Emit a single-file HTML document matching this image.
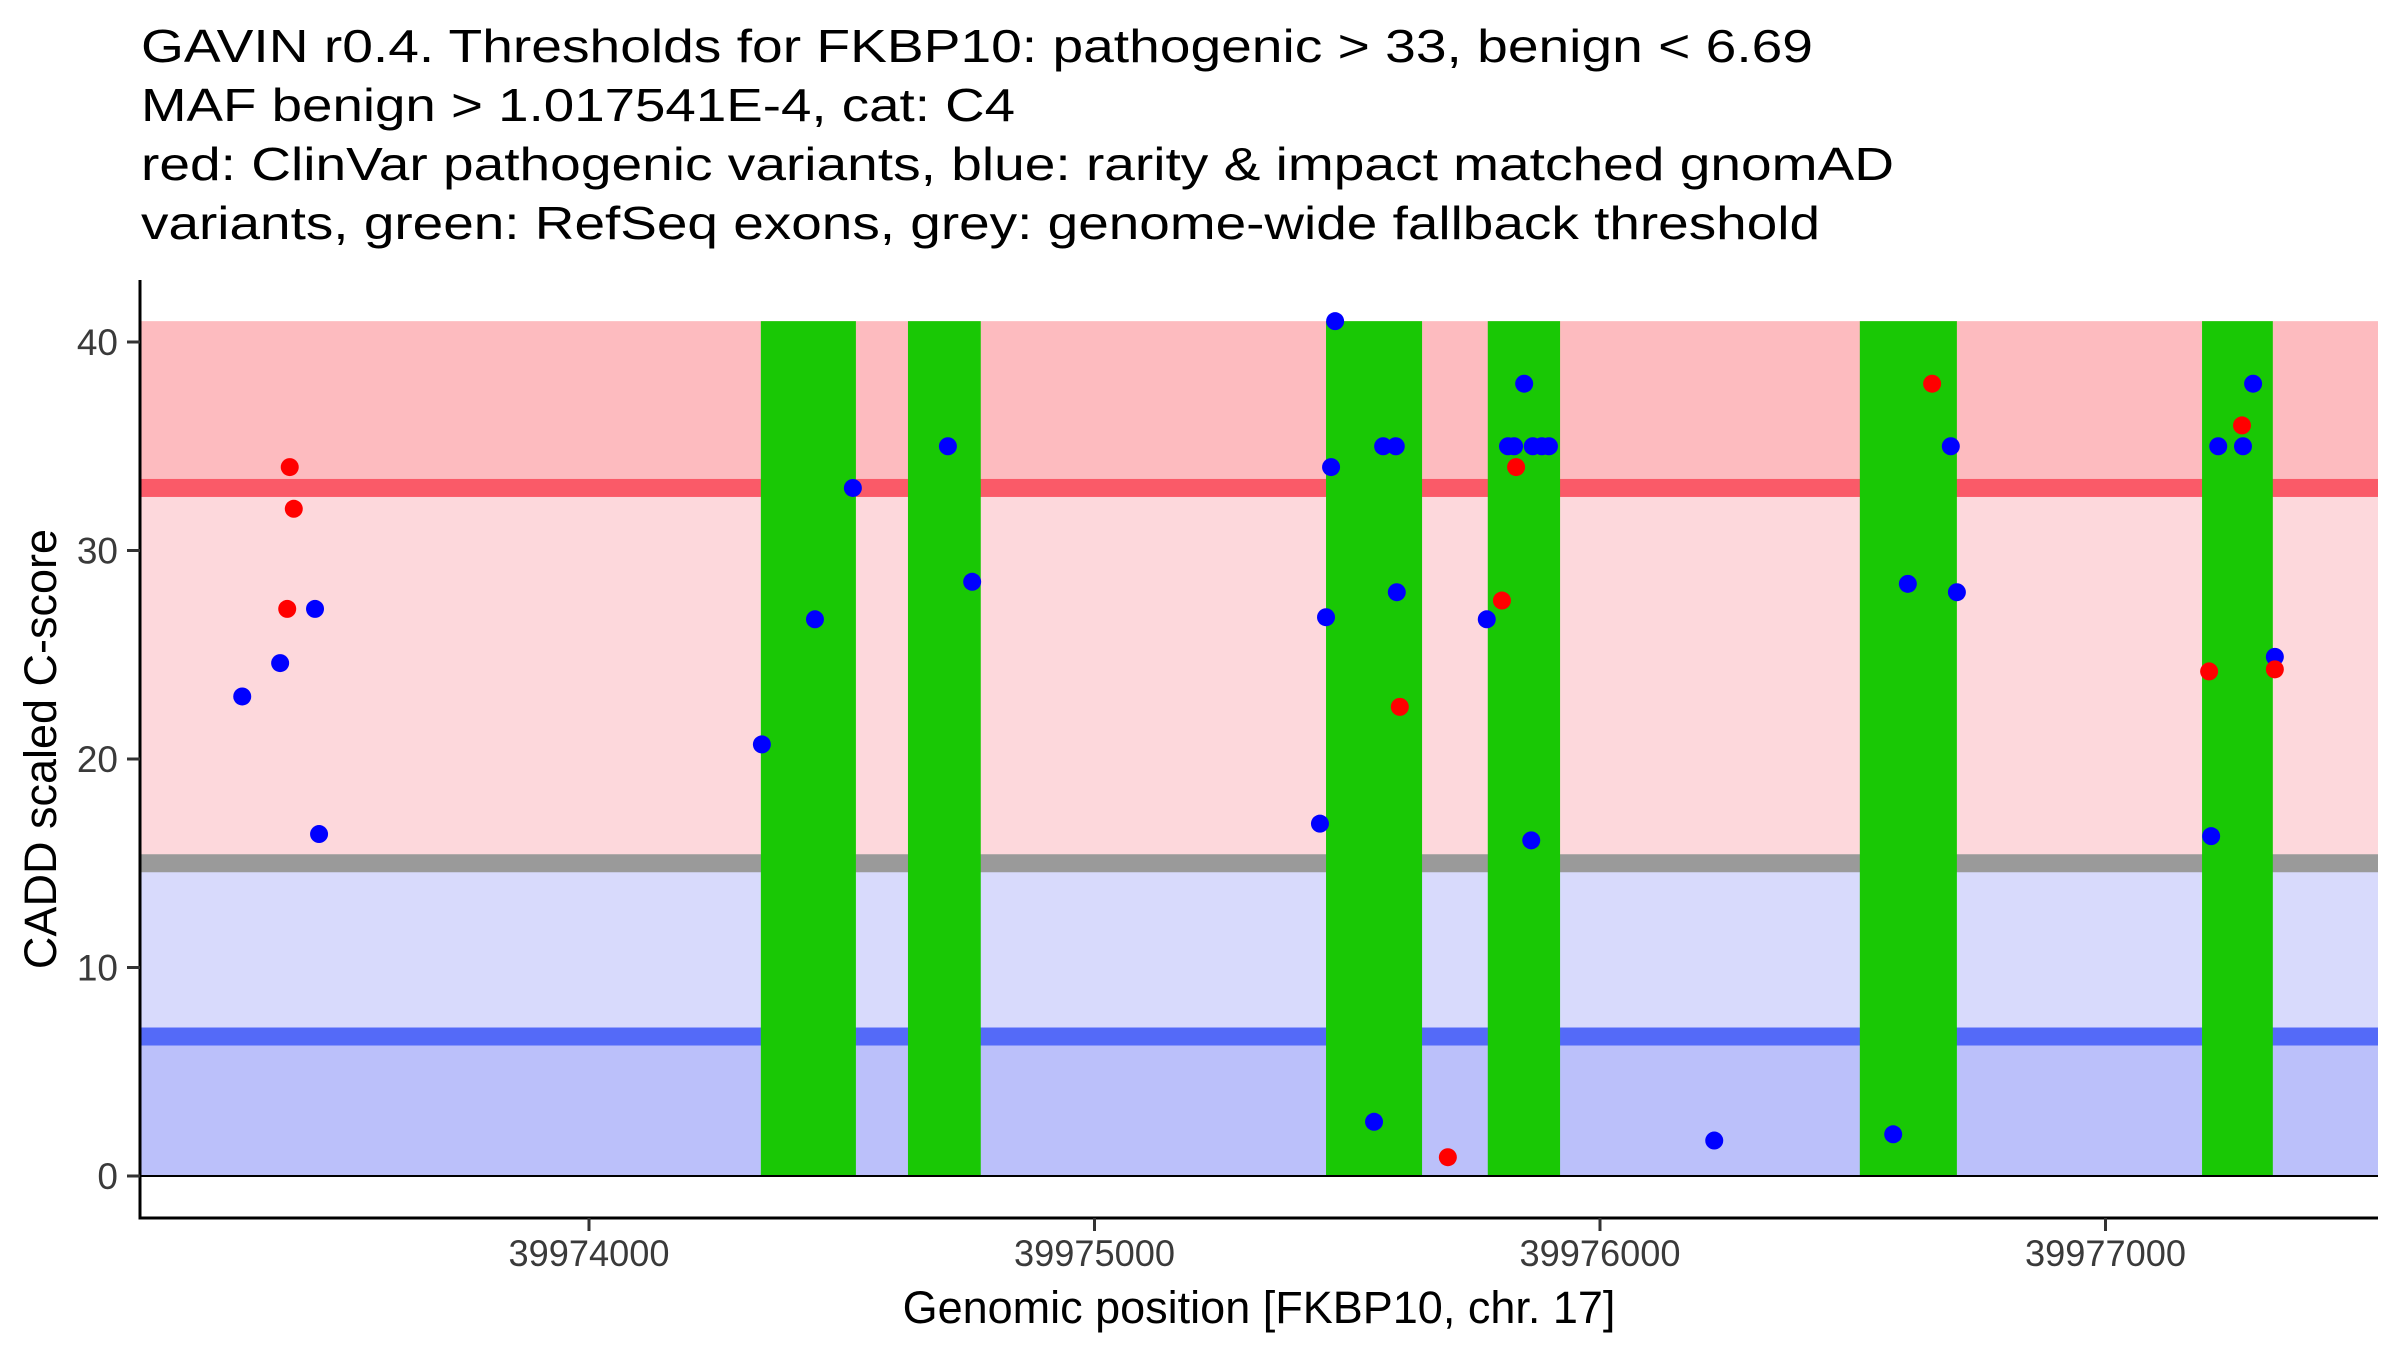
<!DOCTYPE html>
<html><head><meta charset="utf-8"><style>
html,body{margin:0;padding:0;background:#fff;}
svg{display:block;font-family:"Liberation Sans",Arial,sans-serif;}
</style></head><body>
<svg id="chart" width="2400" height="1350" viewBox="0 0 2400 1350">
<g font-size="46" fill="#000">
<text x="141" y="62" textLength="1672" lengthAdjust="spacingAndGlyphs">GAVIN r0.4. Thresholds for FKBP10: pathogenic &gt; 33, benign &lt; 6.69</text>
<text x="141" y="121" textLength="874" lengthAdjust="spacingAndGlyphs">MAF benign &gt; 1.017541E-4, cat: C4</text>
<text x="141" y="180" textLength="1753" lengthAdjust="spacingAndGlyphs">red: ClinVar pathogenic variants, blue: rarity &amp; impact matched gnomAD</text>
<text x="141" y="239" textLength="1679" lengthAdjust="spacingAndGlyphs">variants, green: RefSeq exons, grey: genome-wide fallback threshold</text>
</g>
<g id="bands"></g>
<g id="exons"></g>
<g id="points"></g>
<g id="axes"></g>
<text x="1259" y="1323" font-size="45" text-anchor="middle" fill="#000">Genomic position [FKBP10, chr. 17]</text>
<text transform="translate(56,749) rotate(-90)" font-size="45" text-anchor="middle" fill="#000">CADD scaled C-score</text>
</svg>
<script>
const xTicks = [39974000, 39975000, 39976000, 39977000];
const yTicks = [0, 10, 20, 30, 40];
const pathoThr = 33;
const benignThr = 6.69;
const fallbackThr = 15;
const yTop = 41;
const exonStarts = [39974340, 39974631, 39975458, 39975778, 39976514, 39977191];
const exonEnds   = [39974528, 39974775, 39975648, 39975921, 39976706, 39977331];
const blueX = [39973314, 39973389, 39973458, 39973466, 39974342, 39974447, 39974522, 39974710, 39974758,
  39975476, 39975468, 39975571, 39975596, 39975598, 39975458, 39975446, 39975553,
  39975850, 39975818, 39975830, 39975867, 39975885, 39975899, 39975776, 39975864,
  39976226, 39976580, 39976694, 39976609, 39976706,
  39977292, 39977223, 39977272, 39977335, 39977209];
const blueY = [23.0, 24.6, 27.2, 16.4, 20.7, 26.7, 33.0, 35.0, 28.5,
  41.0, 34.0, 35.0, 35.0, 28.0, 26.8, 16.9, 2.6,
  38.0, 35.0, 35.0, 35.0, 35.0, 35.0, 26.7, 16.1,
  1.7, 2.0, 35.0, 28.4, 28.0,
  38.0, 35.0, 35.0, 24.9, 16.3];
const redX = [39973408, 39973416, 39973403, 39975604, 39975699, 39975834, 39975806, 39976657, 39977270, 39977205, 39977335];
const redY = [34.0, 32.0, 27.2, 22.5, 0.9, 34.0, 27.6, 38.0, 36.0, 24.2, 24.3];

const NS = 'http://www.w3.org/2000/svg';
const X0 = 140, X1 = 2378;
function xs(p){ return 589 + (p - 39974000) * 0.5055; }
function ys(v){ return 1176 - v * 20.85; }
function mk(tag, attrs, parent){
  const e = document.createElementNS(NS, tag);
  for (const k in attrs) e.setAttribute(k, attrs[k]);
  parent.appendChild(e);
  return e;
}
const bands = document.getElementById('bands');
function band(v0, v1, color, name){
  const r = mk('rect', {x: X0, y: ys(v1), width: X1 - X0, height: ys(v0) - ys(v1), fill: color}, bands);
  
  
}
band(pathoThr, yTop, '#fdbbbf', 'pathogenic-zone');
band(fallbackThr, pathoThr, '#fdd8dc', 'intermediate-pathogenic-zone');
band(benignThr, fallbackThr, '#d8dafc', 'intermediate-benign-zone');
band(0, benignThr, '#bbc0fa', 'benign-zone');
function line(v, color, name){
  const r = mk('rect', {x: X0, y: ys(v) - 9, width: X1 - X0, height: 18, fill: color}, bands);
  
  
}
line(pathoThr, '#fa5a68', 'pathogenic-threshold-line');
line(fallbackThr, '#9a9a9a', 'fallback-threshold-line');
line(benignThr, '#546af8', 'benign-threshold-line');

const exG = document.getElementById('exons');
for (let i = 0; i < exonStarts.length; i++){
  const r = mk('rect', {x: xs(exonStarts[i]), y: ys(yTop), width: xs(exonEnds[i]) - xs(exonStarts[i]), height: ys(0) - ys(yTop), fill: '#19c805'}, exG);
  
  
}
const ptG = document.getElementById('points');
for (let i = 0; i < blueX.length; i++){
  const c = mk('circle', {cx: xs(blueX[i]), cy: ys(blueY[i]), r: 9, fill: '#0000ff'}, ptG);
  
  
}
for (let i = 0; i < redX.length; i++){
  const c = mk('circle', {cx: xs(redX[i]), cy: ys(redY[i]), r: 9, fill: '#ff0000'}, ptG);
  
  
}
const ax = document.getElementById('axes');
const yl = mk('line', {x1: X0, y1: 1218, x2: X1, y2: 1218, stroke: '#000', 'stroke-width': 3}, ax);


const xl = mk('line', {x1: X0, y1: 280, x2: X0, y2: 1219.5, stroke: '#000', 'stroke-width': 3}, ax);


const zl = mk('line', {x1: X0, y1: ys(0), x2: X1, y2: ys(0), stroke: '#000', 'stroke-width': 2}, ax);


for (const t of yTicks){
  const tk = mk('line', {x1: 127, y1: ys(t), x2: X0, y2: ys(t), stroke: '#333', 'stroke-width': 3}, ax);
  
  
  const lb = mk('text', {x: 118, y: ys(t) + 13, 'font-size': 37, 'text-anchor': 'end', fill: '#3a3a3a'}, ax);
  lb.textContent = t;
  
  
}
for (const t of xTicks){
  const tk = mk('line', {x1: xs(t), y1: 1218, x2: xs(t), y2: 1231, stroke: '#333', 'stroke-width': 3}, ax);
  
  
  const lb = mk('text', {x: xs(t), y: 1266, 'font-size': 37, 'text-anchor': 'middle', fill: '#3a3a3a', textLength: 161, lengthAdjust: 'spacingAndGlyphs'}, ax);
  lb.textContent = t;
  
  
}
</script>
</body></html>
